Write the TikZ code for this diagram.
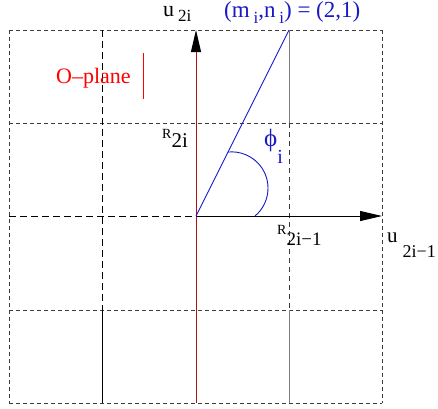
\documentclass[tikz,border=0pt]{standalone}
\usepackage{fontspec}
\setmainfont{Liberation Serif}
\usepackage{graphicx}
\usetikzlibrary{arrows.meta}
\definecolor{axred}{RGB}{170,20,20}
\definecolor{lblue}{RGB}{25,25,200}
\definecolor{gridc}{RGB}{60,60,60}
\newcommand{\fs}[1]{\fontsize{#1pt}{#1pt}\selectfont}
\begin{document}
\begin{tikzpicture}[x=1pt,y=-1pt,
  gridline/.style={gridc,line width=0.9pt,dash pattern=on 4pt off 3pt},
  longdash/.style={black,line width=0.9pt,dash pattern=on 7pt off 4pt},
  solidline/.style={gray,line width=1pt},
  axarrow/.style={line width=1pt,-{Triangle[length=22pt,width=10pt,color=black]}},
  lbl/.style={inner sep=0pt,anchor=base west}]
\useasboundingbox (0,0) rectangle (438,408);
\foreach \i/\x in {0/9,1/102,2/196,3/289,4/382}{
  \foreach \j/\y in {0/30,1/123,2/216,3/310,4/403}{
    \coordinate (g\i\j) at (\x,\y);
  }
}
% horizontal grid lines
\draw[gridline] (g00) -- (g40);
\draw[gridline] (g01) -- (g41);
\draw[longdash] (g02) -- (g22);
\draw[gridline] (g03) -- (g43);
\draw[gridline] (g04) -- (g44);
% vertical grid lines
\draw[gridline] (g00) -- (g04);
\draw[longdash] (g10) -- (g13);
\draw[black,line width=0.9pt] (g13) -- (g14);
\draw[solidline] (g30) -- (g31);
\draw[gridline,dash pattern=on 5pt off 4pt] (g31) -- (g33);
\draw[solidline] (g33) -- (g34);
\draw[gridline] (g40) -- (g44);
% axes
\draw[axarrow,axred] (g24) -- (g20);
\draw[axarrow,black] (g22) -- (g42);
% vector and angle
\draw[lblue,line width=0.9pt] (g22) -- (g30);
\coordinate (arcs) at (255.03,215.96);
\draw[lblue,line width=0.9pt] (arcs) arc[start angle=50,end angle=-96,radius=36.3];
% O-plane marker
\coordinate (ta) at (143,53);
\coordinate (tb) at (143,99);
\draw[red,line width=0.9pt] (ta) -- (tb);
% labels
\node[lbl,font=\fs{22}] (lu2i) at (163,16) {u\hspace{4pt}\raisebox{-5pt}{\fs{17}2i}};
\node[lbl,lblue,font=\fs{23}] (lmn) at (224,17) {(m\,\raisebox{-6pt}{\fs{17}i},n\,\raisebox{-6pt}{\fs{17}i}) = (2,1)};
\node[lbl,red,font=\fs{22}] (lop) at (56,83) {O\textendash plane};
\node[lbl,font=\fs{21}] (lr2i) at (162,147) {\raisebox{9pt}{\fs{14}R}2i};
\node[lbl,lblue,font=\fs{25}] (lphi) at (264,146) {ϕ\raisebox{-17pt}{\fs{20}i}};
\node[lbl,font=\fs{19}] (lr2i1) at (277,245) {\raisebox{11pt}{\fs{14}R}2i−1};
\node[lbl,font=\fs{21}] (lu2i1) at (387,242) {u\hspace{5pt}\raisebox{-15pt}{\fs{18}2i−1}};
\end{tikzpicture}
\end{document}
